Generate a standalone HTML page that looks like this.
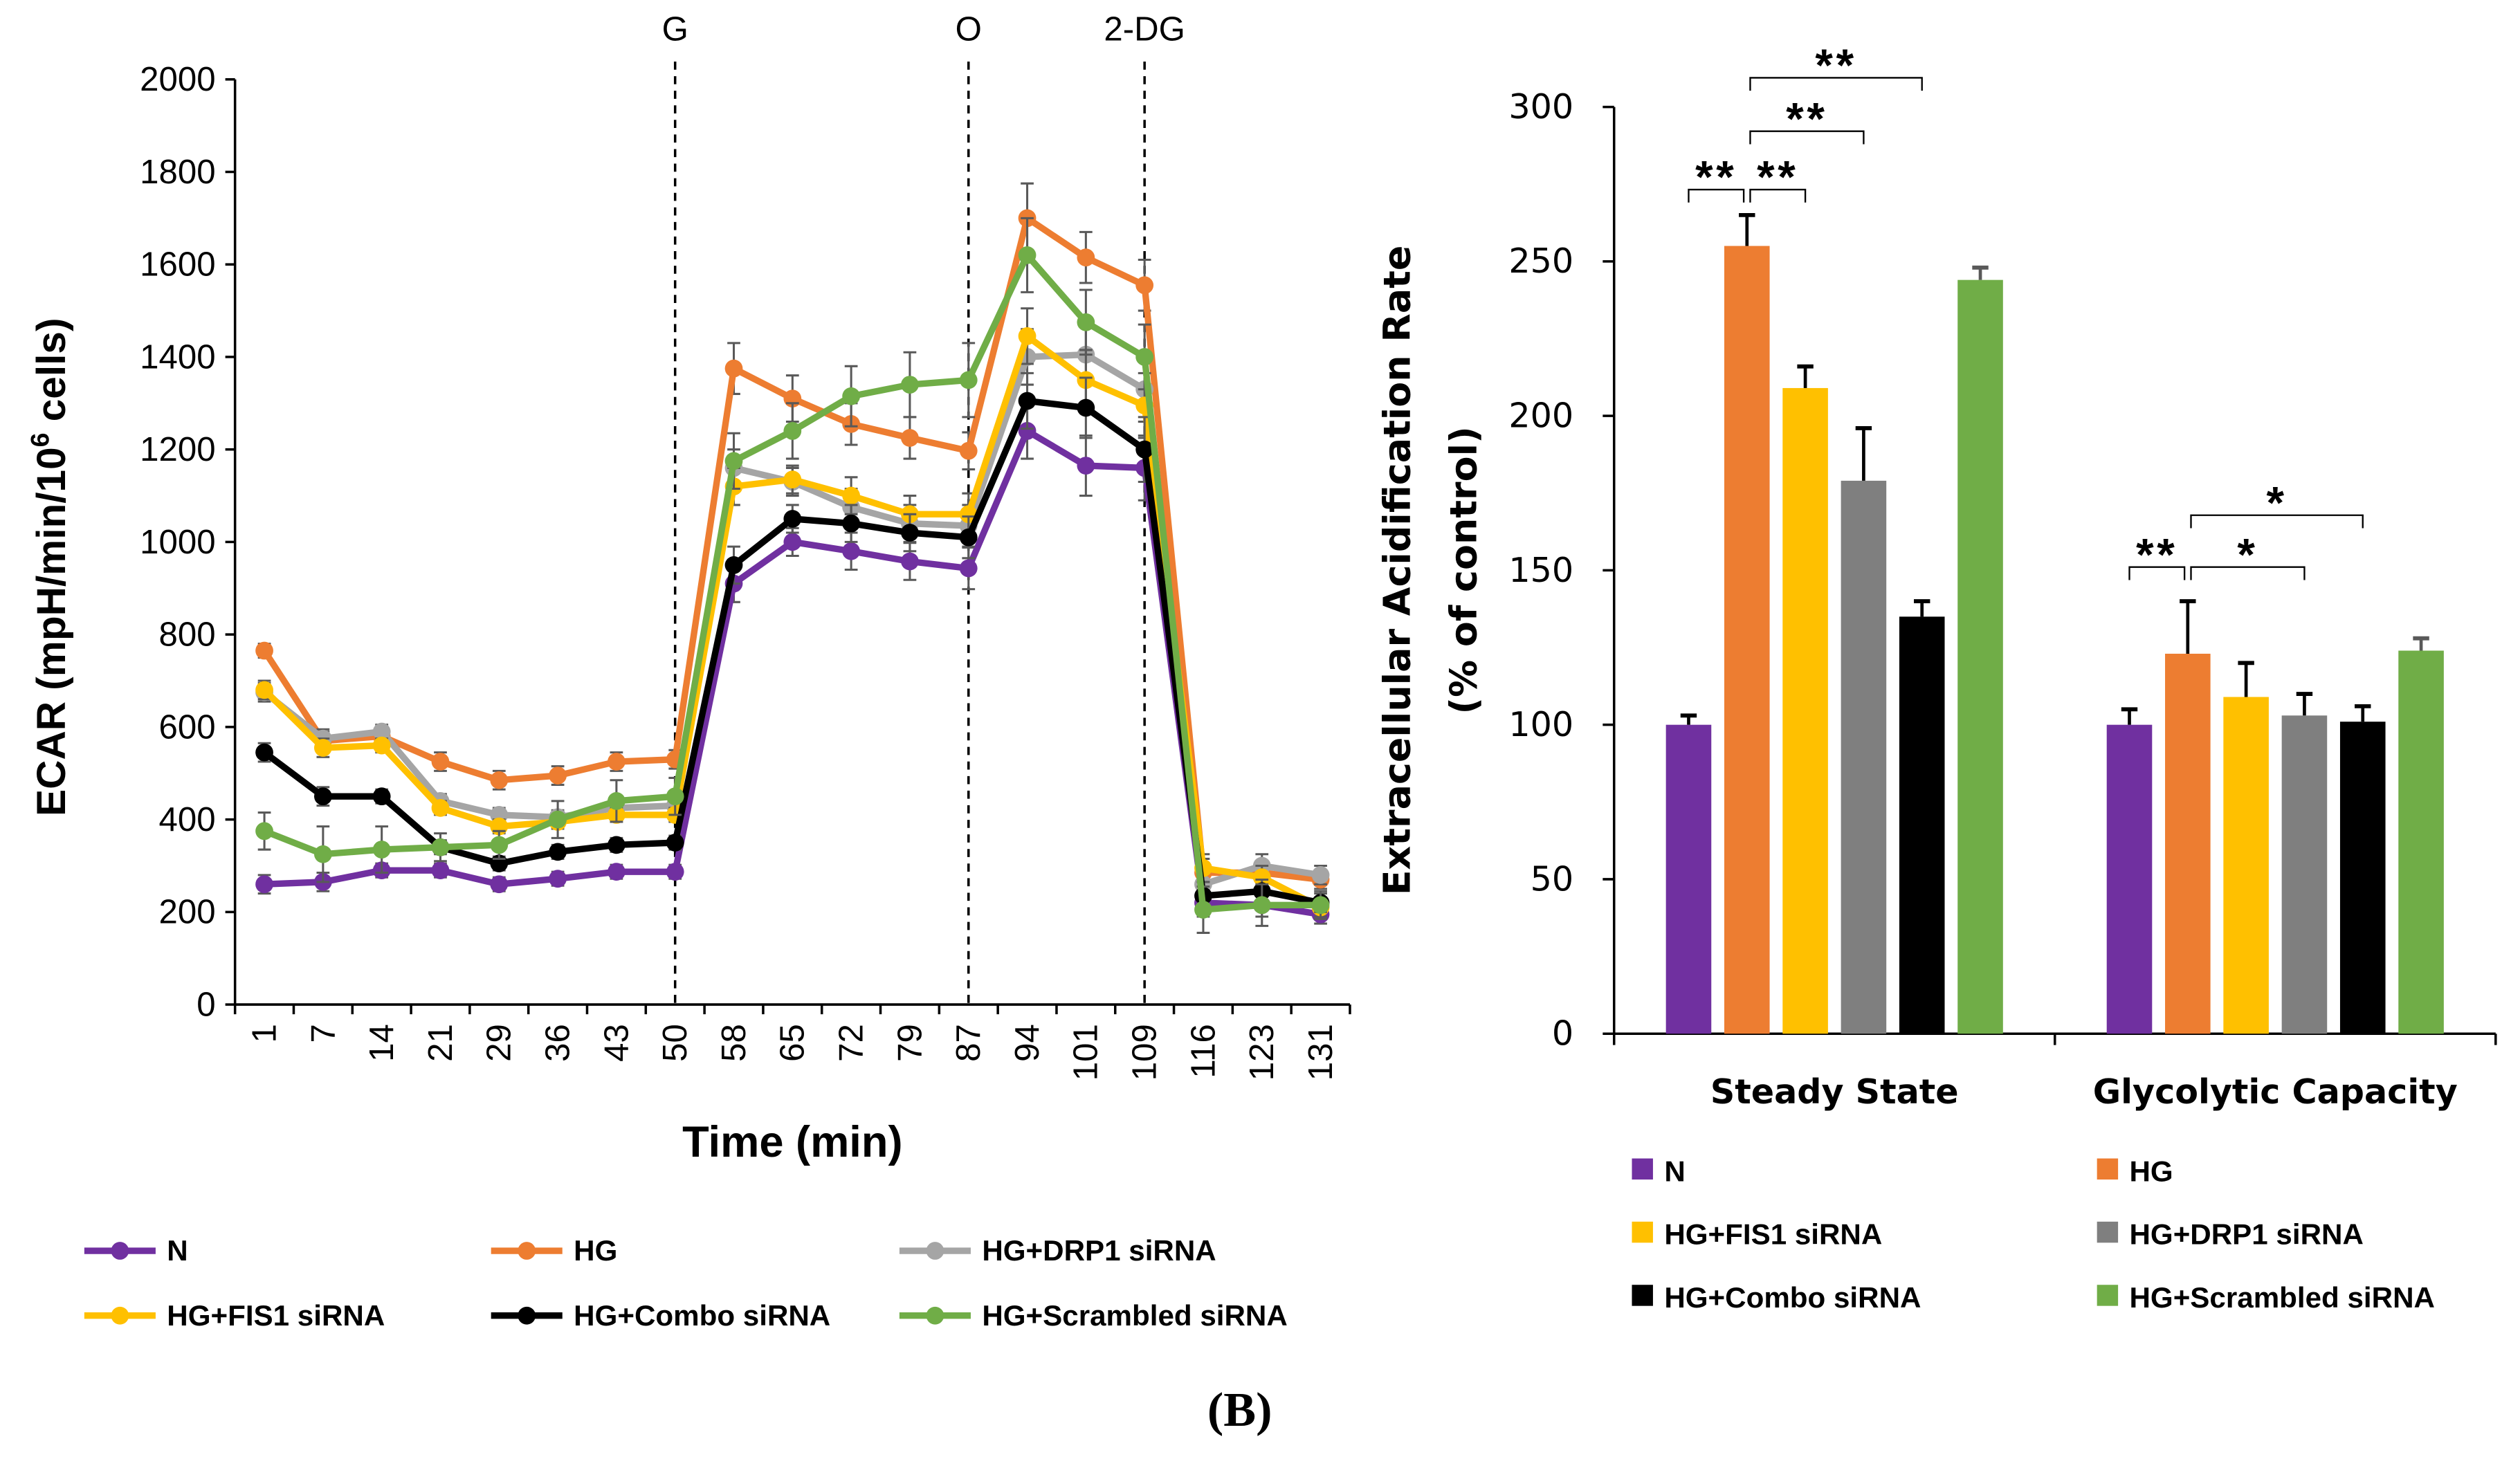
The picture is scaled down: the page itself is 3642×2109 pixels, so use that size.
<!DOCTYPE html>
<html><head><meta charset="utf-8"><style>
html,body{margin:0;padding:0;background:#fff}
svg{display:block}
text{font-family:"Liberation Sans","DejaVu Sans",sans-serif}
</style></head><body>
<svg id="fig" width="3642" height="2109" viewBox="0 0 1555 900.5" xmlns="http://www.w3.org/2000/svg">
<g id="left"></g>
<g id="right"></g>
<text x="765" y="880" style="font-family:'Liberation Serif',serif" font-weight="bold" font-size="30" text-anchor="middle">(B)</text>
</svg>
<script>
const times = ["1","7","14","21","29","36","43","50","58","65","72","79","87","94","101","109","116","123","131"];
const yTicks = [0,200,400,600,800,1000,1200,1400,1600,1800,2000];
const seriesNames = ["N","HG","HG+DRP1 siRNA","HG+FIS1 siRNA","HG+Combo siRNA","HG+Scrambled siRNA"];
const seriesColors = ["#7030a0","#ed7d31","#a5a5a5","#ffc000","#000000","#70ad47"];
const valsN = [260,265,290,290,260,272,287,287,910,1000,980,958,943,1240,1165,1160,220,215,195];
const valsHG = [765,570,580,525,485,495,525,530,1375,1310,1255,1225,1197,1700,1615,1555,285,285,270];
const valsDRP1 = [675,575,590,440,410,405,425,430,1160,1130,1075,1040,1035,1400,1405,1330,260,300,280];
const valsFIS1 = [680,555,560,425,385,395,410,410,1120,1135,1100,1060,1060,1445,1350,1295,295,275,210];
const valsCombo = [545,450,450,340,305,330,345,350,950,1050,1040,1020,1010,1305,1290,1200,235,245,220];
const valsScr = [375,325,335,340,345,400,440,450,1175,1240,1315,1340,1350,1620,1475,1400,205,215,215];
const errN = [20,20,15,15,15,15,15,15,40,30,40,40,45,60,65,70,30,25,20];
const errHG = [15,20,20,20,20,20,20,20,55,50,45,45,40,75,55,55,30,25,20];
const errScr = [40,60,50,30,30,40,45,40,60,60,65,70,80,80,70,70,50,45,30];
const bigSeries = [valsN,valsHG,valsDRP1,valsFIS1,valsCombo,valsScr];
const bigErr = [errN,errHG,errN,errN,errN,errScr];
const barGroups = ["Steady State","Glycolytic Capacity"];
const barNames = ["N","HG","HG+FIS1 siRNA","HG+DRP1 siRNA","HG+Combo siRNA","HG+Scrambled siRNA"];
const barColors = ["#7030a0","#ed7d31","#ffc000","#7f7f7f","#000000","#70ad47"];
const steadyVals = [100,255,209,179,135,244];
const steadyErr = [3,10,7,17,5,4];
const glycoVals = [100,123,109,103,101,124];
const glycoErr = [5,17,11,7,5,4];
const barTicks = [0,50,100,150,200,250,300];

const NS="http://www.w3.org/2000/svg";
function mk(parent,tag,attrs,txt){const e=document.createElementNS(NS,tag);for(const k in attrs)e.setAttribute(k,attrs[k]);if(txt!==undefined)e.textContent=txt;parent.appendChild(e);return e;}
const DV="font-family:'DejaVu Sans',sans-serif";

// ---------- left line chart ----------
const L=document.getElementById('left');
const lx0=145,lx1=833,ly0=620,ly1=49;
const band=(lx1-lx0)/times.length;
const xL=i=>lx0+band*(i+0.5);
const yL=v=>ly0-(v/2000)*(ly0-ly1);
mk(L,'line',{x1:lx0,y1:ly1,x2:lx0,y2:ly0,stroke:'#000','stroke-width':1.5});
mk(L,'line',{x1:lx0,y1:ly0,x2:lx1,y2:ly0,stroke:'#000','stroke-width':1.5});
yTicks.forEach(v=>{
  mk(L,'line',{x1:lx0-6,y1:yL(v),x2:lx0,y2:yL(v),stroke:'#000','stroke-width':1.5});
  const t=mk(L,'text',{x:lx0-12,y:yL(v)+7,'text-anchor':'end','font-size':21},String(v));
  
  
});
for(let i=0;i<=times.length;i++){
  mk(L,'line',{x1:lx0+band*i,y1:ly0,x2:lx0+band*i,y2:ly0+6,stroke:'#000','stroke-width':1.5});
}
times.forEach((s,i)=>{
  const t=mk(L,'text',{x:0,y:0,'text-anchor':'end','font-size':21,transform:`translate(${xL(i)+7},${ly0+12}) rotate(-90)`},s);
  
  
});
[[7,"G"],[12,"O"],[15,"2-DG"]].forEach(([i,lab])=>{
  const l=mk(L,'line',{x1:xL(i),y1:38,x2:xL(i),y2:ly0,stroke:'#000','stroke-width':1.5,'stroke-dasharray':'5,4'});
  
  
  const t=mk(L,'text',{x:xL(i),y:25,'text-anchor':'middle','font-size':21},lab);
  
  
});
bigSeries.forEach((vals,s)=>{
  const g=mk(L,'g',{});
  
  
  vals.forEach((v,i)=>{
    const e=bigErr[s][i];
    mk(g,'line',{x1:xL(i),y1:yL(v-e),x2:xL(i),y2:yL(v+e),stroke:'#595959','stroke-width':1.3});
    mk(g,'line',{x1:xL(i)-4,y1:yL(v-e),x2:xL(i)+4,y2:yL(v-e),stroke:'#595959','stroke-width':1.3});
    mk(g,'line',{x1:xL(i)-4,y1:yL(v+e),x2:xL(i)+4,y2:yL(v+e),stroke:'#595959','stroke-width':1.3});
  });
  mk(g,'polyline',{points:vals.map((v,i)=>xL(i)+','+yL(v)).join(' '),fill:'none',stroke:seriesColors[s],'stroke-width':4,'stroke-linejoin':'round'});
  vals.forEach((v,i)=>{
    const c=mk(g,'circle',{cx:xL(i),cy:yL(v),r:5.5,fill:seriesColors[s]});
    
    
  });
});
{
 const t=mk(L,'text',{x:0,y:0,'text-anchor':'middle','font-size':25,'font-weight':'bold',transform:'translate(40,350) rotate(-90)'});
 t.innerHTML='ECAR (mpH/min/10<tspan font-size="16" dy="-10">6</tspan><tspan dy="10"> cells)</tspan>';
 
 
 const x=mk(L,'text',{x:489,y:714,'text-anchor':'middle','font-size':27,'font-weight':'bold'},'Time (min)');
 
 
}
const legPos=[[52,772],[303,772],[555,772],[52,812],[303,812],[555,812]];
seriesNames.forEach((n,s)=>{
  const [x,y]=legPos[s];
  const g=mk(L,'g',{});
  
  
  mk(g,'line',{x1:x,y1:y,x2:x+44,y2:y,stroke:seriesColors[s],'stroke-width':4});
  mk(g,'circle',{cx:x+22,cy:y,r:5.5,fill:seriesColors[s]});
  mk(g,'text',{x:x+51,y:y+6,'font-size':18,'font-weight':'bold'},n);
});

// ---------- right bar chart ----------
const R=document.getElementById('right');
const bx0=996,bx1=1540,by0=638,by1=66;
const yB=v=>by0-(v/300)*(by0-by1);
const gBand=(bx1-bx0)/barGroups.length;
mk(R,'line',{x1:bx0,y1:by1,x2:bx0,y2:by0,stroke:'#000','stroke-width':1.5});
mk(R,'line',{x1:bx0,y1:by0,x2:bx1,y2:by0,stroke:'#000','stroke-width':1.5});
barTicks.forEach(v=>{
  mk(R,'line',{x1:bx0-7,y1:yB(v),x2:bx0,y2:yB(v),stroke:'#000','stroke-width':1.5});
  const t=mk(R,'text',{x:bx0-25,y:yB(v)+7,'text-anchor':'end','font-size':21,style:DV},String(v));
  
  
});
for(let i=0;i<=barGroups.length;i++){
  mk(R,'line',{x1:bx0+gBand*i,y1:by0,x2:bx0+gBand*i,y2:by0+7,stroke:'#000','stroke-width':1.5});
}
const barStep=36,barW=28;
const xBar=(gi,bi)=>bx0+gBand*(gi+0.5)+(bi-2.5)*barStep;
[steadyVals,glycoVals].forEach((vals,gi)=>{
  const errs=gi===0?steadyErr:glycoErr;
  vals.forEach((v,bi)=>{
    const cx=xBar(gi,bi);
    const r=mk(R,'rect',{x:cx-barW/2,y:yB(v),width:barW,height:yB(0)-yB(v),fill:barColors[bi]});
    
    
    const ec=bi===5?'#595959':'#000';
    mk(R,'line',{x1:cx,y1:yB(v),x2:cx,y2:yB(v+errs[bi]),stroke:ec,'stroke-width':2});
    mk(R,'line',{x1:cx-5,y1:yB(v+errs[bi]),x2:cx+5,y2:yB(v+errs[bi]),stroke:ec,'stroke-width':2.5});
  });
  const t=mk(R,'text',{x:bx0+gBand*(gi+0.5),y:681,'text-anchor':'middle','font-size':21,'font-weight':'bold',style:DV},barGroups[gi]);
  
  
});
const sig=[[0,0,1,117,"**"],[0,1,2,117,"**"],[0,1,3,81,"**"],[0,1,4,48,"**"],[1,0,1,350,"**"],[1,1,3,350,"*"],[1,1,4,318,"*"]];
sig.forEach(([g,a,b,y,lab])=>{
  const x1=xBar(g,a)+(a===1?2:0),x2=xBar(g,b)-(b===1?2:0);
  const p=mk(R,'path',{d:`M${x1},${y+8} V${y} H${x2} V${y+8}`,fill:'none',stroke:'#000','stroke-width':1});
  
  
  const t=mk(R,'text',{x:(x1+x2)/2,y:y+2,'text-anchor':'middle','font-size':28,'font-weight':'bold','letter-spacing':2},lab);
  
  
});
{
 const t=mk(R,'text',{x:0,y:0,'text-anchor':'middle','font-size':23,'font-weight':'bold',style:DV,transform:'translate(870,352) rotate(-90)'},'Extracellular Acidification Rate');
 
 
 const t2=mk(R,'text',{x:0,y:0,'text-anchor':'middle','font-size':23,'font-weight':'bold',style:DV,transform:'translate(911,352) rotate(-90)'},'(% of control)');
 
 
}
const bLeg=[[1010,722],[1297,722],[1010,761],[1297,761],[1010,800],[1297,800]];
barNames.forEach((n,i)=>{
  const [x,y]=bLeg[i];
  const g=mk(R,'g',{});
  
  
  mk(g,'rect',{x:x-3,y:y-7,width:13,height:13,fill:barColors[i]});
  mk(g,'text',{x:x+17,y:y+7,'font-size':18,'font-weight':'bold'},n);
});
</script>
</body></html>
